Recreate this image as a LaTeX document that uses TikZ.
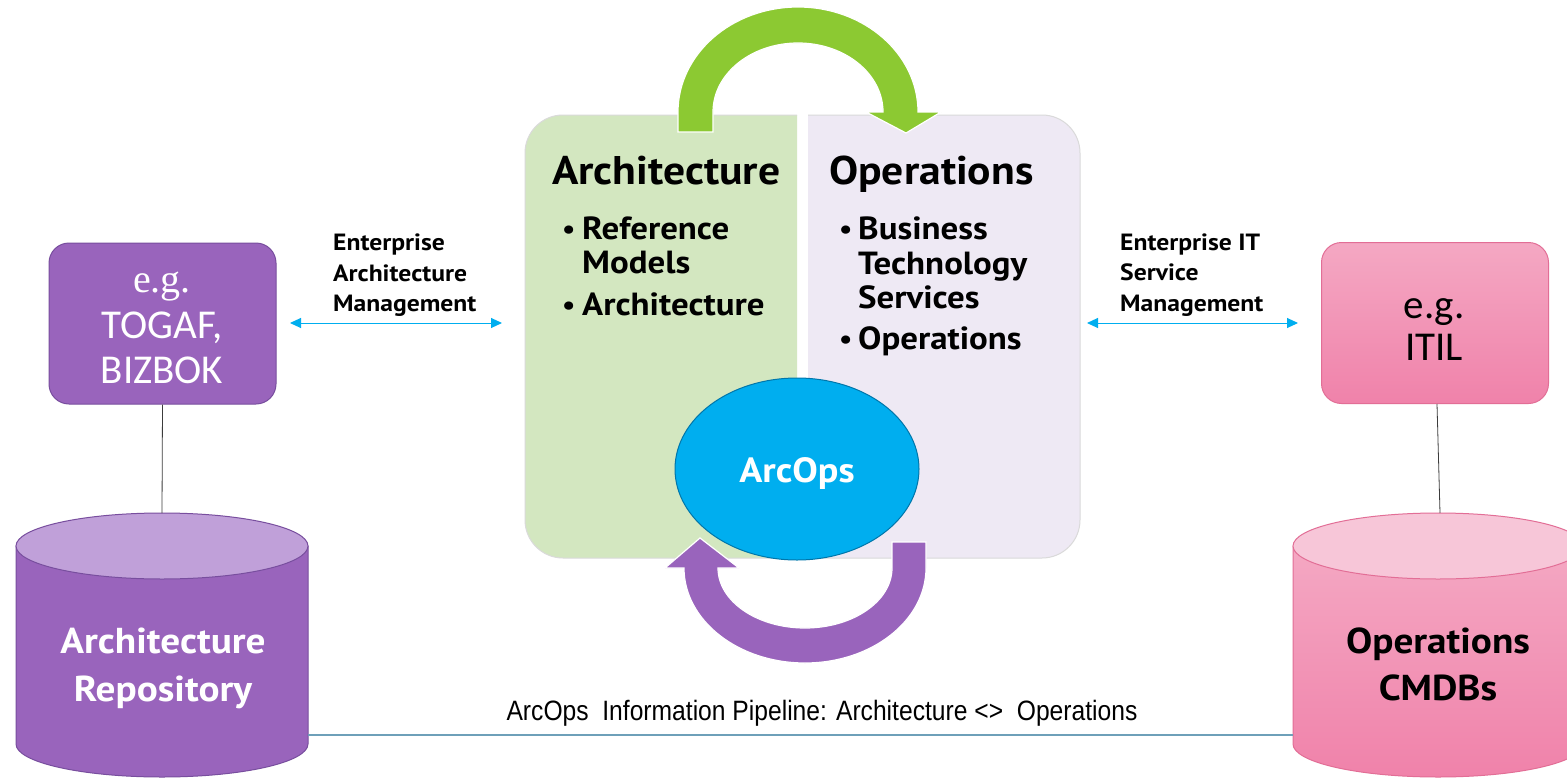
\documentclass[tikz,border=0pt]{standalone}
\usepackage{fontspec}
\usetikzlibrary{shapes.geometric,arrows.meta}
\setmainfont{PT Sans}[FakeStretch=1.09]
\newfontfamily\calfont{Carlito}
\newfontfamily\narrowfont{Liberation Sans}[FakeStretch=0.88]
\newfontfamily\egserif{Liberation Serif}
\newcommand\fsz[1]{\fontsize{#1}{#1}\selectfont}
\definecolor{pgreen}{RGB}{211,231,192}
\definecolor{plav}{RGB}{238,233,244}
\definecolor{pline}{RGB}{218,218,218}
\definecolor{agreen}{RGB}{140,201,50}
\definecolor{apurple}{RGB}{153,100,188}
\definecolor{purpleline}{RGB}{120,78,158}
\definecolor{purplelight}{RGB}{192,160,217}
\definecolor{cyanblue}{RGB}{0,174,239}
\definecolor{ellline}{RGB}{0,118,170}
\definecolor{pinktop}{RGB}{244,168,195}
\definecolor{pinkbot}{RGB}{240,130,170}
\definecolor{pinkline}{RGB}{226,110,150}
\definecolor{pinklight}{RGB}{247,198,216}
\definecolor{pipeblue}{RGB}{110,160,185}
\definecolor{connline}{RGB}{60,60,60}
\begin{document}
\begin{tikzpicture}[x=1pt,y=-1pt,
  txt/.style={anchor=base, inner sep=0pt},
  headtxt/.style={anchor=base west, inner sep=0pt, font=\bfseries\fsz{40}},
  bultxt/.style={anchor=base west, inner sep=0pt, font=\bfseries\fsz{32}},
  dottxt/.style={anchor=base west, inner sep=0pt, font=\bfseries\fsz{27}},
  lbltxt/.style={anchor=base west, inner sep=0pt, font=\bfseries\fsz{23.5}},
  cyltxt/.style={anchor=base, inner sep=0pt, font=\bfseries\fsz{36}},
  boxnode/.style={rounded corners=20pt, minimum width=227pt, minimum height=161pt, line width=1pt, inner sep=0pt},
  biarrow/.style={cyanblue, line width=1pt, {Triangle[length=11pt,width=10pt]}-{Triangle[length=11pt,width=10pt]}},
  conn/.style={connline, line width=0.8pt},
  pipe/.style={pipeblue, line width=1.2pt}]
\useasboundingbox (0,0) rectangle (1567,779);
\clip (0,0) rectangle (1567,779);
\fill[white] (0,0) rectangle (1567,779);

% central panels
\begin{scope}
  \clip (520,100) rectangle (797,570);
  \path[fill=pgreen, draw=pline, line width=1pt, rounded corners=38pt] (525,115) rectangle (900,558);
\end{scope}
\begin{scope}
  \clip (808,100) rectangle (1090,570);
  \path[fill=plav, draw=pline, line width=1pt, rounded corners=38pt] (700,115) rectangle (1080,558);
\end{scope}

% green arrow (top)
\path[fill=agreen, draw=white, line width=1.2pt]
  (678,132) -- (678,112) arc[start angle=180, end angle=360, x radius=120, y radius=105]
  -- (941,112) -- (906,133) -- (866,112) -- (883,112)
  arc[start angle=360, end angle=180, x radius=85, y radius=69]
  -- (713,132) -- cycle;

% purple arrow (bottom)
\path[fill=apurple, draw=white, line width=1.2pt]
  (926,542) -- (926,568) arc[start angle=0, end angle=180, x radius=121, y radius=95]
  -- (665,568) -- (700,538) -- (739,568) -- (718,568)
  arc[start angle=180, end angle=0, x radius=87, y radius=60]
  -- (892,542) -- cycle;

% ArcOps ellipse
\node[ellipse, minimum width=244pt, minimum height=182pt, fill=cyanblue, draw=ellline, line width=1pt, inner sep=0pt] (arcops) at (797,469) {};
\node[txt, white, font=\bfseries\fsz{35}] (arcopstxt) at (797,482) {ArcOps};

% panel texts
\node[headtxt] (archhead) at (552,184) {Architecture};
\node[dottxt] (ab1) at (562,238) {•};
\node[bultxt] (ab1a) at (582,239) {Reference};
\node[bultxt] (ab1b) at (582,273) {Models};
\node[dottxt] (ab2) at (562,314) {•};
\node[bultxt] (ab2a) at (582,315) {Architecture};

\node[headtxt] (opshead) at (829,184) {Operations};
\node[dottxt] (ob1) at (839,238) {•};
\node[bultxt] (ob1a) at (858,239) {Business};
\node[bultxt] (ob1b) at (858,274) {Technology};
\node[bultxt] (ob1c) at (858,308) {Services};
\node[dottxt] (ob2) at (839,348) {•};
\node[bultxt] (ob2a) at (858,349) {Operations};

% left box
\node[boxnode, fill=apurple, draw=purpleline] (togaf) at (162.5,323.5) {};
\node[txt, white, font=\egserif\fsz{40}] (togaf1) at (162,292) {e.g.};
\node[txt, white, font=\calfont\fsz{41}] (togaf2) at (162,338) {TOGAF,};
\node[txt, white, font=\calfont\fsz{41}] (togaf3) at (162,383) {BIZBOK};

% right box
\node[boxnode, top color=pinktop, bottom color=pinkbot, draw=pinkline] (itil) at (1435,323) {};
\node[txt, black, font=\calfont\fsz{41}] (itil1) at (1434,318) {e.g.};
\node[txt, black, font=\calfont\fsz{41}] (itil2) at (1434,360) {ITIL};

% management labels
\node[lbltxt] (ea1) at (333,250) {Enterprise};
\node[lbltxt] (ea2) at (333,281) {Architecture};
\node[lbltxt] (ea3) at (333,311) {Management};
\coordinate (eaL) at (290,323);
\coordinate (eaR) at (502,323);
\draw[biarrow] (eaL) -- (eaR);

\node[lbltxt] (it1) at (1120,250) {Enterprise IT};
\node[lbltxt] (it2) at (1120,280) {Service};
\node[lbltxt] (it3) at (1120,311) {Management};
\coordinate (itL) at (1087,323);
\coordinate (itR) at (1298,323);
\draw[biarrow] (itL) -- (itR);

% left cylinder
\path[fill=apurple, draw=purpleline, line width=1pt]
  (16,546) -- (16,744) arc[start angle=180, end angle=0, x radius=146, y radius=33]
  -- (308,546) -- cycle;
\path[fill=purplelight, draw=purpleline, line width=1pt] (162,546) ellipse[x radius=146, y radius=33];
\node[cyltxt, white] (repo1) at (163,653) {Architecture};
\node[cyltxt, white] (repo2) at (163,701) {Repository};
\coordinate (repotop) at (162,513);
\coordinate (repoR) at (308,735);

% right cylinder
\path[top color=pinktop, bottom color=pinkbot, draw=pinkline, line width=1pt]
  (1293,546) -- (1293,744) arc[start angle=180, end angle=0, x radius=145, y radius=33]
  -- (1583,546) -- cycle;
\path[fill=pinklight, draw=pinkline, line width=1pt] (1438,546) ellipse[x radius=145, y radius=33];
\node[cyltxt, black] (cmdb1) at (1438,653) {Operations};
\node[cyltxt, black] (cmdb2) at (1438,700) {CMDBs};
\coordinate (cmdbtop) at (1440,513);
\coordinate (cmdbL) at (1293,735);

% connectors
\draw[conn] (togaf.south) -- (repotop);
\draw[conn] (itil.south) ++(2,0) -- (cmdbtop);
\draw[pipe] (repoR) -- (cmdbL);
\node[txt, font=\narrowfont\fsz{28}] (pipelbl) at (822,720) {ArcOps\ \ Information Pipeline: Architecture <>\ \ Operations};
\end{tikzpicture}
\end{document}
